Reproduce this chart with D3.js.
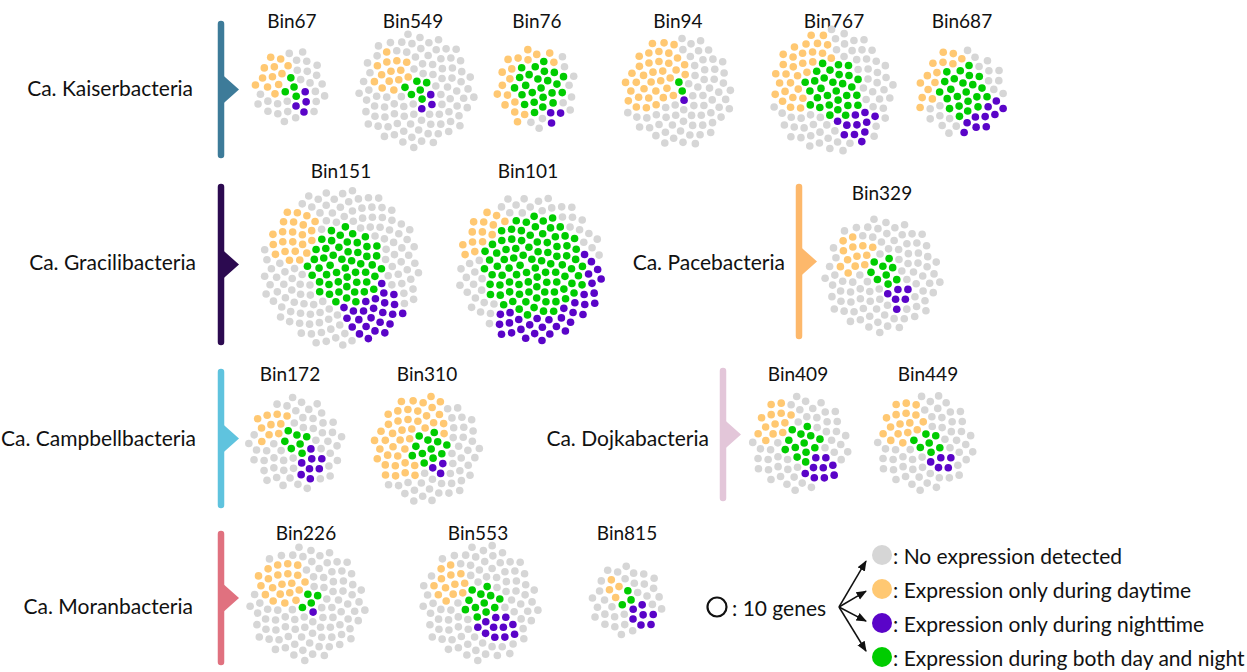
<!DOCTYPE html>
<html>
<head>
<meta charset="utf-8">
<script src="https://cdn.jsdelivr.net/npm/d3@7"></script>
<style>
  body { margin: 0; background: #fff; }
  text { font-family: Lato, 'Open Sans', sans-serif; fill: #111; }
</style>
</head>
<body>
<svg id="chart" width="1247" height="672"></svg>
<script>
// ---- data (each dot = 10 genes) ----
const groups = ['Ca. Kaiserbacteria', 'Ca. Gracilibacteria', 'Ca. Pacebacteria',
  'Ca. Campbellbacteria', 'Ca. Dojkabacteria', 'Ca. Moranbacteria']
const groupColors = ['#3d7b99', '#2c0a50', '#fdb86b', '#5fc3de', '#e3c6d9', '#e0717f']

const bins = ['Bin67', 'Bin549', 'Bin76', 'Bin94', 'Bin767', 'Bin687',
  'Bin151', 'Bin101', 'Bin329',
  'Bin172', 'Bin310', 'Bin409', 'Bin449',
  'Bin226', 'Bin553', 'Bin815']
const binGroup = [0, 0, 0, 0, 0, 0, 1, 1, 2, 3, 3, 4, 4, 5, 5, 5]

const noExpr       = [25, 89, 10, 62, 56, 18, 110, 40, 84, 48, 40, 43, 50, 86, 79, 30]
const dayOnly      = [12, 14, 18, 36, 30, 14,  23, 14, 13, 10, 42, 13, 17, 21, 13,  4]
const nightOnly    = [ 4,  3,  3,  1, 11, 10,  25, 34,  6,  8,  3,  9,  5,  1, 11,  7]
const bothDayNight = [ 4,  6, 24,  2, 30, 23,  52, 90,  9,  7, 12, 13,  7,  4, 12,  3]

const categories = ['none', 'day', 'night', 'both']
const legendLabels = [': No expression detected', ': Expression only during daytime',
  ': Expression only during nighttime', ': Expression during both day and night']

// ---- layout ----
const groupLayout = [
  { x: 221, y0: 24, y1: 155, labelX: 193, labelY: 87 },
  { x: 221, y0: 187, y1: 342, labelX: 196, labelY: 261 },
  { x: 799, y0: 187, y1: 336, labelX: 785, labelY: 261 },
  { x: 221, y0: 372, y1: 505, labelX: 196, labelY: 437 },
  { x: 723, y0: 371, y1: 498, labelX: 709, labelY: 437 },
  { x: 221, y0: 534, y1: 662, labelX: 193, labelY: 605 }
]
const binLayout = [
  { cx: 290, cy: 87, tx: 292, ty: 20 }, { cx: 416, cy: 90, tx: 413, ty: 20 },
  { cx: 537, cy: 88, tx: 537, ty: 20 }, { cx: 678, cy: 91, tx: 678, ty: 20 },
  { cx: 832, cy: 91, tx: 834, ty: 20 }, { cx: 962, cy: 92, tx: 962, ty: 20 },
  { cx: 341, cy: 268, tx: 341, ty: 170 }, { cx: 531, cy: 268, tx: 528, ty: 170 },
  { cx: 882, cy: 275, tx: 882, ty: 192 },
  { cx: 296, cy: 444, tx: 290, ty: 373 }, { cx: 427, cy: 449, tx: 427, ty: 373 },
  { cx: 800, cy: 443, tx: 798, ty: 373 }, { cx: 925, cy: 443, tx: 928, ty: 373 },
  { cx: 307, cy: 603, tx: 306, ty: 532 }, { cx: 480, cy: 603, tx: 478, ty: 532 },
  { cx: 627, cy: 600, tx: 627, ty: 532 }
]

const SPACING = 10.3
const DOT_R = 3.8
const GOLDEN = Math.PI * (3 - Math.sqrt(5))

const svg = d3.select('#chart')
const color = d3.scaleOrdinal()
  .domain(categories)
  .range(['#d6d6d6', '#ffc872', '#5a04c8', '#00cc00'])

function unit(x, y) {
  const l = Math.hypot(x, y)
  return [x / l, y / l]
}
const DIR_DAY = unit(-0.8, -0.5)
const DIR_NIGHT = unit(0.55, 0.85)

function layoutBin(counts) {
  const n = d3.sum(categories, k => counts[k])
  const c = SPACING * Math.sqrt(Math.sqrt(3) / 2 / Math.PI)
  const disc = k => c * Math.sqrt(k)
  const R = disc(n)

  // sunflower seed positions fill a disc
  const pts = d3.range(n).map(i => {
    const r = c * Math.sqrt(i + 0.5)
    const a = i * GOLDEN
    return { x0: r * Math.cos(a), y0: r * Math.sin(a), cat: null }
  })

  const g = [0.04 * R, -0.03 * R]
  const rB = disc(counts.both)
  const dDay = (rB + disc(counts.day)) * 0.92
  const dNight = (rB + disc(counts.night)) * 0.8
  const anchors = {
    both: g,
    day: [g[0] + DIR_DAY[0] * dDay, g[1] + DIR_DAY[1] * dDay],
    night: [g[0] + DIR_NIGHT[0] * dNight, g[1] + DIR_NIGHT[1] * dNight]
  }

  ;['both', 'day', 'night'].forEach(cat => {
    const [ax, ay] = anchors[cat]
    const free = pts.filter(p => !p.cat)
    free.sort((a, b) => ((a.x0 - ax) ** 2 + (a.y0 - ay) ** 2) - ((b.x0 - ax) ** 2 + (b.y0 - ay) ** 2))
    free.slice(0, counts[cat]).forEach(p => { p.cat = cat })
  })
  pts.forEach(p => {
    if (!p.cat) p.cat = 'none'
    p.x = p.x0
    p.y = p.y0
  })

  d3.forceSimulation(pts)
    .force('collide', d3.forceCollide(5.1).strength(0.7))
    .force('x', d3.forceX(d => d.x0).strength(0.2))
    .force('y', d3.forceY(d => d.y0).strength(0.2))
    .stop()
    .tick(60)

  return pts
}

// ---- group brackets and labels ----
const groupSel = svg.append('g').attr('class', 'groups')
  .selectAll('g').data(groups).enter().append('g')

groupSel.append('line')
  .attr('x1', (d, i) => groupLayout[i].x)
  .attr('x2', (d, i) => groupLayout[i].x)
  .attr('y1', (d, i) => groupLayout[i].y0)
  .attr('y2', (d, i) => groupLayout[i].y1)
  .attr('stroke', (d, i) => groupColors[i])
  .attr('stroke-width', 6.5)
  .attr('stroke-linecap', 'round')

groupSel.append('path')
  .attr('d', (d, i) => {
    const l = groupLayout[i]
    const m = (l.y0 + l.y1) / 2
    return `M${l.x},${m - 16} L${l.x + 18},${m} L${l.x},${m + 16} Z`
  })
  .attr('fill', (d, i) => groupColors[i])

groupSel.append('text')
  .attr('x', (d, i) => groupLayout[i].labelX)
  .attr('y', (d, i) => groupLayout[i].labelY)
  .attr('text-anchor', 'end')
  .attr('dominant-baseline', 'central')
  .style('font-size', '21px')
  .text(d => d)

// ---- bins ----
const binSel = svg.append('g').attr('class', 'bins')
  .selectAll('g').data(bins).enter().append('g')

binSel.append('text')
  .attr('x', (d, i) => binLayout[i].tx)
  .attr('y', (d, i) => binLayout[i].ty)
  .attr('text-anchor', 'middle')
  .attr('dominant-baseline', 'central')
  .style('font-size', '19px')
  .text(d => d)

binSel.append('g')
  .attr('transform', (d, i) => `translate(${binLayout[i].cx}, ${binLayout[i].cy})`)
  .each(function (d, i) {
    const dots = layoutBin({
      none: noExpr[i], day: dayOnly[i], night: nightOnly[i], both: bothDayNight[i]
    })
    d3.select(this).selectAll('circle').data(dots).enter().append('circle')
      .attr('cx', p => p.x)
      .attr('cy', p => p.y)
      .attr('r', DOT_R)
      .attr('fill', p => color(p.cat))
  })

// ---- legend ----
const legend = svg.append('g').attr('class', 'legend')

svg.append('defs').append('marker')
  .attr('id', 'arrow')
  .attr('viewBox', '0 0 10 10')
  .attr('refX', 9).attr('refY', 5)
  .attr('markerWidth', 7).attr('markerHeight', 7)
  .attr('orient', 'auto')
  .append('path')
  .attr('d', 'M0,1 L10,5 L0,9 Z')
  .attr('fill', '#111')

legend.append('circle')
  .attr('cx', 717).attr('cy', 607).attr('r', 9.5)
  .attr('fill', 'none').attr('stroke', '#111').attr('stroke-width', 2.2)

legend.append('text')
  .attr('x', 732).attr('y', 607)
  .attr('dominant-baseline', 'central')
  .style('font-size', '21px')
  .text(': 10 genes')

const legendY = d3.scalePoint().domain(categories).range([555, 657])

const item = legend.selectAll('.item').data(categories).enter().append('g')
  .attr('class', 'item')

item.append('line')
  .attr('x1', 839).attr('y1', 607)
  .attr('x2', 866)
  .attr('y2', d => 607 + (legendY(d) - 607) * 0.88)
  .attr('stroke', '#111').attr('stroke-width', 1.5)
  .attr('marker-end', 'url(#arrow)')

item.append('circle')
  .attr('cx', 882)
  .attr('cy', d => legendY(d))
  .attr('r', 10)
  .attr('fill', d => color(d))

item.append('text')
  .attr('x', 893)
  .attr('y', d => legendY(d))
  .attr('dominant-baseline', 'central')
  .style('font-size', '21px')
  .text((d, i) => legendLabels[i])
</script>
</body>
</html>
